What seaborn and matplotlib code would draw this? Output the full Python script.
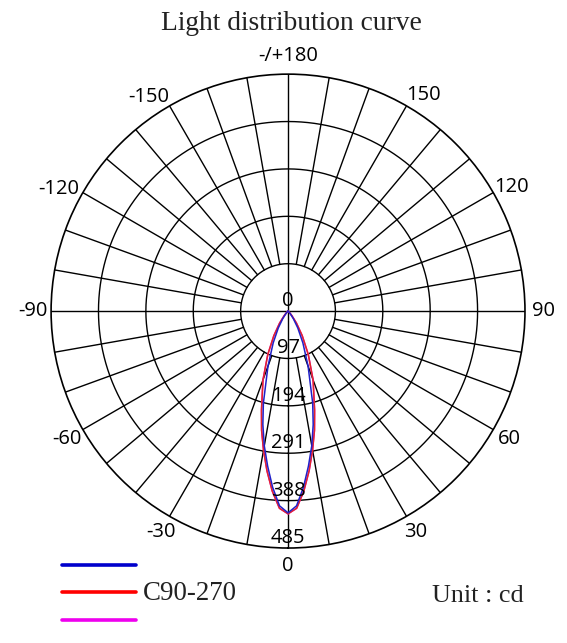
import numpy as np
import pandas as pd
import matplotlib
matplotlib.use("Agg")
import matplotlib.pyplot as plt
from matplotlib.lines import Line2D
import seaborn as sns

# intensity (cd) vs angle from nadir, symmetric lobes
angles_deg = [0, 2.5, 5, 7.5, 10, 12.5, 15, 20, 25, 30, 35, 40, 45, 50, 60, 70, 80, 90]
c0_180 = [413, 399, 362, 320, 280, 238, 195, 120, 72, 40, 19, 7, 2, 0, 0, 0, 0, 0]
c90_270 = [415, 404, 370, 330, 289, 250, 210, 150, 98, 58, 30, 12, 4, 0, 0, 0, 0, 0]
c_extra = [415, 404, 370, 330, 289, 250, 210, 150, 98, 58, 30, 12, 4, 0, 0, 0, 0, 0]

ring_values = [97, 194, 291, 388, 485]
angle_labels = {0: "0", 30: "30", 60: "60", 90: "90", 120: "120", 150: "150",
                180: "-/+180", -150: "-150", -120: "-120", -90: "-90",
                -60: "-60", -30: "-30"}
# small nudges so the labels sit where the original puts them
label_nudge = {-150: (3, 0), -120: (2, 10), 150: (-2, 0), 120: (-1, 0)}

R_MAX = 485


def mirror(vals):
    # build full -90..90 curve from half profile
    ang = [-a for a in angles_deg[::-1]] + angles_deg[1:]
    v = vals[::-1] + vals[1:]
    return np.radians(ang), v


rows = []
for name, vals in [("extra", c_extra), ("C0-180", c0_180), ("C90-270", c90_270)]:
    th, v = mirror(vals)
    for i, (t, r) in enumerate(zip(th, v)):
        rows.append({"series": name, "theta": t, "cd": r, "order": i})
df = pd.DataFrame(rows)

sns.set_style("white")
plt.rcParams["font.family"] = ["Open Sans", "DejaVu Sans"]
plt.rcParams["text.color"] = "black"

fig = plt.figure(figsize=(5.67, 6.43), dpi=100)
ax = fig.add_axes([0.090, 0.1477, 0.836, 0.737], projection="polar")
ax.set_theta_zero_location("S")
ax.set_theta_direction(1)
ax.grid(False)
ax.spines["polar"].set_linewidth(1.2)
ax.spines["polar"].set_color("black")

# grid: rings and spokes
circ = np.linspace(0, 2 * np.pi, 721)
for r in ring_values[:-1]:
    ax.plot(circ, np.full_like(circ, r), color="black", lw=1.0, zorder=1)
for a in range(0, 360, 10):
    r0 = 0 if a % 90 == 0 else ring_values[0]
    ax.plot([np.radians(a)] * 2, [r0, R_MAX], color="black", lw=1.0, zorder=1)

# curves
palette = {"extra": "#ee00ee", "C0-180": "#2020c8", "C90-270": "#e02828"}
for name in ["extra", "C90-270", "C0-180"]:
    sub = df[df["series"] == name]
    sns.lineplot(data=sub, x="theta", y="cd", sort=False, ax=ax,
                 color=palette[name], lw=1.1, zorder=3, legend=False)
ax.set_xlabel("")
ax.set_ylabel("")
ax.set_xticks([])
ax.set_yticks([])
ax.set_ylim(0, R_MAX)

# ring labels
for r in [0] + ring_values:
    ax.text(0, r, str(r), ha="center", va="bottom", fontsize=14.5,
            color="black", zorder=4)

# angle labels
for a, lab in angle_labels.items():
    da, dr = label_nudge.get(a, (0, 0))
    ax.text(np.radians(a + da), 522 + dr, lab, ha="center", va="center",
            fontsize=14.5, color="black")

serif = ["Liberation Serif", "DejaVu Serif"]
fig.text(291 / 567, 1 - 23 / 643, "Light distribution curve", ha="center",
         va="center", fontsize=19.8, family=serif, color="#222222")

# legend lines
for y, c in [(565, "#0000cc"), (592, "#ff0000"), (620, "#ee00ee")]:
    fig.add_artist(Line2D([62 / 567, 136 / 567], [1 - y / 643] * 2,
                          color=c, lw=2.6, transform=fig.transFigure))
fig.text(143 / 567, 1 - 593 / 643, "C90-270", ha="left", va="center",
         fontsize=19.4, family=serif, color="#222222")
fig.text(432 / 567, 1 - 596 / 643, "Unit : cd", ha="left", va="center",
         fontsize=18.8, family=serif, color="#222222")

fig.savefig("out.png", dpi=100, facecolor="white")
